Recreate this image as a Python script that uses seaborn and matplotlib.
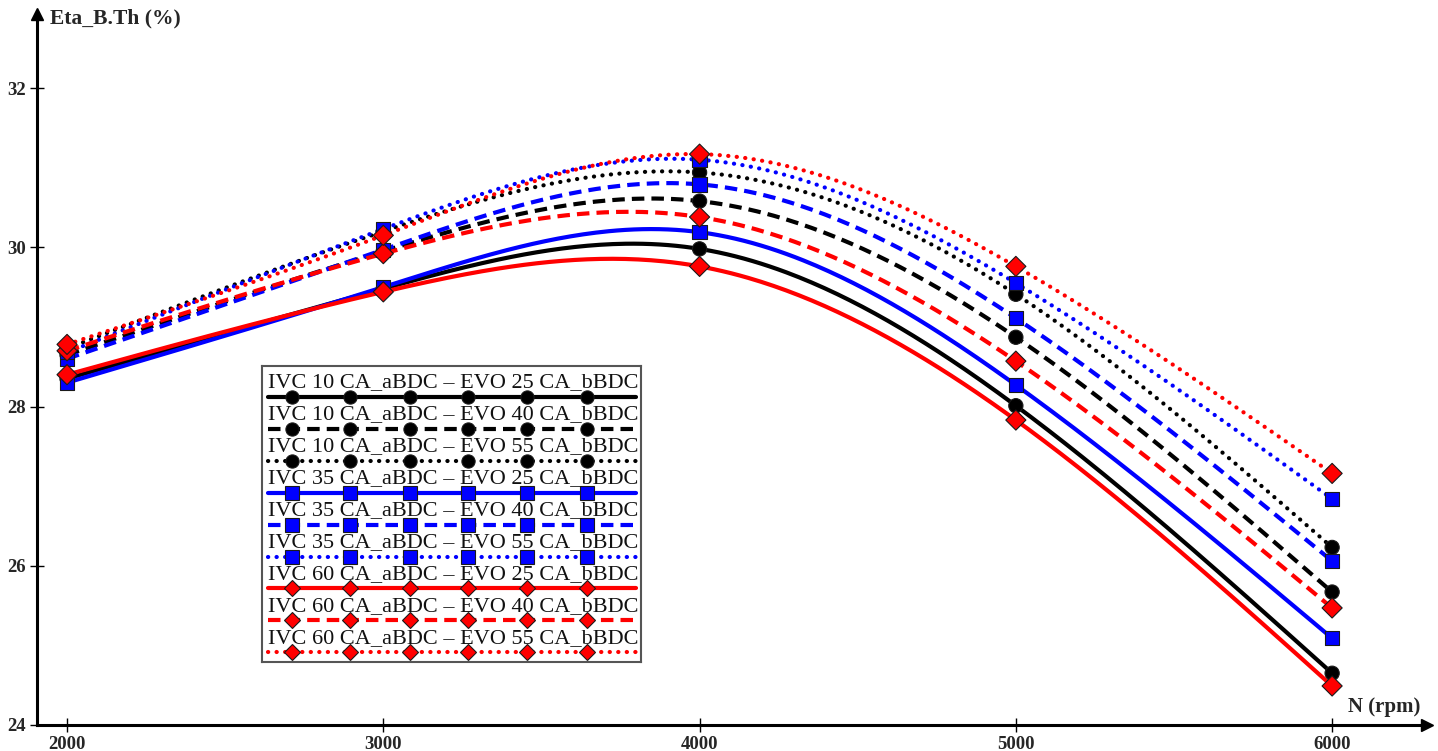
import numpy as np
import pandas as pd
import matplotlib
matplotlib.use("Agg")
import matplotlib.pyplot as plt
import seaborn as sns

# ---------------- data ----------------
rpm = [2000, 3000, 4000, 5000, 6000]
series_names = [
    "IVC 10 CA_aBDC \u2013 EVO 25 CA_bBDC",
    "IVC 10 CA_aBDC \u2013 EVO 40 CA_bBDC",
    "IVC 10 CA_aBDC \u2013 EVO 55 CA_bBDC",
    "IVC 35 CA_aBDC \u2013 EVO 25 CA_bBDC",
    "IVC 35 CA_aBDC \u2013 EVO 40 CA_bBDC",
    "IVC 35 CA_aBDC \u2013 EVO 55 CA_bBDC",
    "IVC 60 CA_aBDC \u2013 EVO 25 CA_bBDC",
    "IVC 60 CA_aBDC \u2013 EVO 40 CA_bBDC",
    "IVC 60 CA_aBDC \u2013 EVO 55 CA_bBDC",
]
eta_ivc10_evo25 = [28.35, 29.48, 29.98, 28.01, 24.65]
eta_ivc10_evo40 = [28.65, 29.95, 30.58, 28.87, 25.67]
eta_ivc10_evo55 = [28.73, 30.20, 30.94, 29.41, 26.23]
eta_ivc35_evo25 = [28.30, 29.50, 30.19, 28.27, 25.09]
eta_ivc35_evo40 = [28.60, 29.97, 30.79, 29.11, 26.06]
eta_ivc35_evo55 = [28.68, 30.23, 31.10, 29.55, 26.84]
eta_ivc60_evo25 = [28.40, 29.44, 29.76, 27.83, 24.49]
eta_ivc60_evo40 = [28.70, 29.92, 30.38, 28.57, 25.47]
eta_ivc60_evo55 = [28.78, 30.15, 31.17, 29.76, 27.16]
all_eta = [eta_ivc10_evo25, eta_ivc10_evo40, eta_ivc10_evo55,
           eta_ivc35_evo25, eta_ivc35_evo40, eta_ivc35_evo55,
           eta_ivc60_evo25, eta_ivc60_evo40, eta_ivc60_evo55]
x_ticks = [2000, 3000, 4000, 5000, 6000]
y_ticks = [24, 26, 28, 30, 32]
x_label = "N (rpm)"
y_label = "Eta_B.Th (%)"

# ---------------- styles ----------------
ivc_colors = ["#000000", "#0000FF", "#FF0000"]
ivc_markers = ["o", "s", "D"]
evo_dashes = ["", (3.0, 1.7), (0.05, 2.0)]
evo_caps = ["butt", "butt", "round"]
palette, markers, dashes, caps = {}, {}, {}, {}
for i, name in enumerate(series_names):
    palette[name] = ivc_colors[i // 3]
    markers[name] = ivc_markers[i // 3]
    dashes[name] = evo_dashes[i % 3]
    caps[name] = evo_caps[i % 3]


def natural_cubic(x, y, xs):
    x = np.asarray(x, float); y = np.asarray(y, float)
    n = len(x); h = np.diff(x)
    A = np.zeros((n, n)); r = np.zeros(n)
    A[0, 0] = 1; A[-1, -1] = 1
    for i in range(1, n - 1):
        A[i, i - 1] = h[i - 1]; A[i, i] = 2 * (h[i - 1] + h[i]); A[i, i + 1] = h[i]
        r[i] = 6 * ((y[i + 1] - y[i]) / h[i] - (y[i] - y[i - 1]) / h[i - 1])
    M = np.linalg.solve(A, r)
    idx = np.clip(np.searchsorted(x, xs) - 1, 0, n - 2)
    x0 = x[idx]; x1 = x[idx + 1]; hh = x1 - x0
    t0 = x1 - xs; t1 = xs - x0
    return (M[idx] * t0 ** 3 / (6 * hh) + M[idx + 1] * t1 ** 3 / (6 * hh)
            + (y[idx] / hh - M[idx] * hh / 6) * t0
            + (y[idx + 1] / hh - M[idx + 1] * hh / 6) * t1)


pts = pd.DataFrame([(r, v, n) for n, vals in zip(series_names, all_eta)
                    for r, v in zip(rpm, vals)], columns=["rpm", "eta", "series"])
xs = np.linspace(min(rpm), max(rpm), 300)
smooth = pd.concat([pd.DataFrame({"rpm": xs, "eta": natural_cubic(rpm, vals, xs), "series": n})
                    for n, vals in zip(series_names, all_eta)], ignore_index=True)

# ---------------- figure ----------------
sns.set_style("white")
plt.rcParams["font.family"] = ["Liberation Serif", "DejaVu Serif"]

W, H = 1438, 751
fig = plt.figure(figsize=(W / 100, H / 100), dpi=100)
ax = fig.add_axes([37 / W, (H - 725) / H, (1427 - 37) / W, (725 - 14) / H])

sns.lineplot(data=smooth, x="rpm", y="eta", hue="series", style="series",
             hue_order=series_names, style_order=series_names,
             palette=palette, dashes=dashes, linewidth=3.0, sort=False,
             estimator=None, legend=False, ax=ax)
for line, name in zip(ax.lines, series_names):
    line.set_dash_capstyle(caps[name])
sns.scatterplot(data=pts, x="rpm", y="eta", hue="series", style="series",
                hue_order=series_names, style_order=series_names,
                palette=palette, markers=markers, s=105, edgecolor="#1a1a1a",
                linewidth=0.8, legend=False, ax=ax, zorder=5)

ax.set_xlim(1905, 6300)
ax.set_ylim(24, 32.93)
ax.set_xticks(x_ticks)
ax.set_yticks(y_ticks)
ax.set_xticklabels([str(t) for t in x_ticks], fontsize=13.5, fontweight="bold")
ax.set_yticklabels([str(t) for t in y_ticks], fontsize=13.5, fontweight="bold")
ax.tick_params(bottom=True, left=True, direction="inout", length=10, width=1.0,
               color="black", pad=3)
ax.set_xlabel(""); ax.set_ylabel("")
for s in ["top", "right"]:
    ax.spines[s].set_visible(False)
for s in ["left", "bottom"]:
    ax.spines[s].set_linewidth(2.2)
    ax.spines[s].set_color("black")
ax.grid(False)

# axis arrows
ax.plot([0], [1], marker="^", ms=9, color="black", transform=ax.transAxes, clip_on=False)
ax.plot([1], [0], marker=">", ms=9, color="black", transform=ax.transAxes, clip_on=False)

fig.text(50 / W, 1 - 18 / H, y_label, fontsize=15.5, fontweight="bold", ha="left", va="center")
fig.text(1420 / W, 1 - 707 / H, x_label, fontsize=15, fontweight="bold", ha="right", va="center")

# ---------------- legend (text above a sample line) ----------------
lg = ax.inset_axes([(262 - 37) / 1390, (725 - 662) / 711, 379 / 1390, 296 / 711])
lg.set_xlim(0, 379); lg.set_ylim(296, 0)
lg.set_xticks([]); lg.set_yticks([])
for s in lg.spines.values():
    s.set_color("#555555"); s.set_linewidth(1.5)
lg.set_facecolor("white")
marker_x = [30, 88, 148, 206, 265, 325]
for i, name in enumerate(series_names):
    ty = 17 + 31.9 * i
    ly = 31 + 31.9 * i
    lg.text(6, ty, name, fontsize=16, ha="left", va="center", color="#111111")
    ln, = lg.plot([6, 374], [ly, ly], color=palette[name], lw=3.0)
    if dashes[name]:
        ln.set_dashes(dashes[name]); ln.set_dash_capstyle(caps[name])
    lg.plot(marker_x, [ly] * len(marker_x), ls="none", marker=markers[name],
            ms=9.5 if markers[name] != "D" else 8, color=palette[name],
            mec="#1a1a1a", mew=0.8)

fig.savefig("out.png", dpi=100)
